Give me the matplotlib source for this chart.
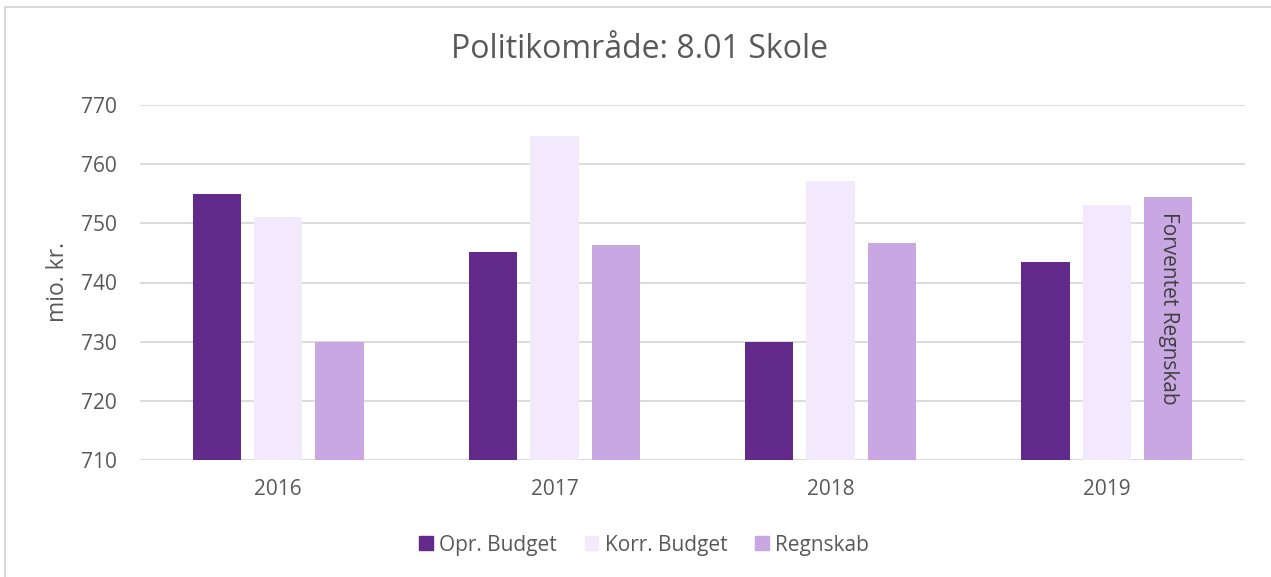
import matplotlib
matplotlib.use("Agg")
import matplotlib.pyplot as plt
import numpy as np
from matplotlib.lines import Line2D

years = ["2016", "2017", "2018", "2019"]
series_names = ["Opr. Budget", "Korr. Budget", "Regnskab"]
opr_budget = [755.0, 745.1, 729.9, 743.4]
korr_budget = [751.1, 764.8, 757.2, 753.1]
regnskab = [729.9, 746.3, 746.7, 754.5]
colors = ["#622A8B", "#F2EAFC", "#C8A7E2"]
yticks = [710, 720, 730, 740, 750, 760, 770]

plt.rcParams['font.family'] = ['Open Sans', 'DejaVu Sans']
txt = "#595959"

fig = plt.figure(figsize=(12.71, 5.77), dpi=100)
ax = fig.add_axes([140/1271, 1-460/577, (1245-140)/1271, (460-105)/577])

x = np.arange(len(years))
w = 0.175
offs = [-0.222, 0.0, 0.222]
data = [opr_budget, korr_budget, regnskab]
bars = []
base = yticks[0]
for d, o, c, n in zip(data, offs, colors, series_names):
    b = ax.bar(x + o, np.array(d) - base, w, bottom=base, color=c, label=n, zorder=3)
    bars.append(b)

ax.set_xlim(-0.5, len(years) - 0.5)
ax.set_ylim(yticks[0], yticks[-1])
ax.set_yticks(yticks)
ax.set_xticks(x)
ax.set_xticklabels(years)
ax.grid(axis='y', color='#D9D9D9', linewidth=1.3, zorder=0)
for s in ax.spines.values():
    s.set_visible(False)
ax.tick_params(axis='both', length=0, labelsize=15, colors=txt)
ax.tick_params(axis='y', pad=16.5)
ax.tick_params(axis='x', pad=14)
ax.set_ylabel("mio. kr.", fontsize=16.5, color=txt, labelpad=8)

# annotation inside last Regnskab bar
rb = bars[2][3]
ax.text(rb.get_x() + rb.get_width()/2, regnskab[3] - 2.6, "Forventet Regnskab",
        rotation=-90, ha='center', va='top', fontsize=15, color='#404040', zorder=4)

fig.text(639/1271, 1-50/577, "Politikområde: 8.01 Skole", ha='center', va='center',
         fontsize=23, color=txt)

handles = [plt.Rectangle((0, 0), 1, 1, color=c) for c in colors]
fig.legend(handles, series_names, loc='center', bbox_to_anchor=(644/1271, 1-545/577),
           ncol=3, frameon=False, fontsize=15, labelcolor=txt, handlelength=0.65,
           handleheight=0.65, handletextpad=0.3, columnspacing=1.35)

# chart border
fig.add_artist(Line2D([5/1271, 1], [1-7/577, 1-7/577], color='#D9D9D9', lw=1.5))
fig.add_artist(Line2D([5/1271, 5/1271], [0, 1-7/577], color='#D9D9D9', lw=1.5))

fig.savefig("out.png", dpi=100)
